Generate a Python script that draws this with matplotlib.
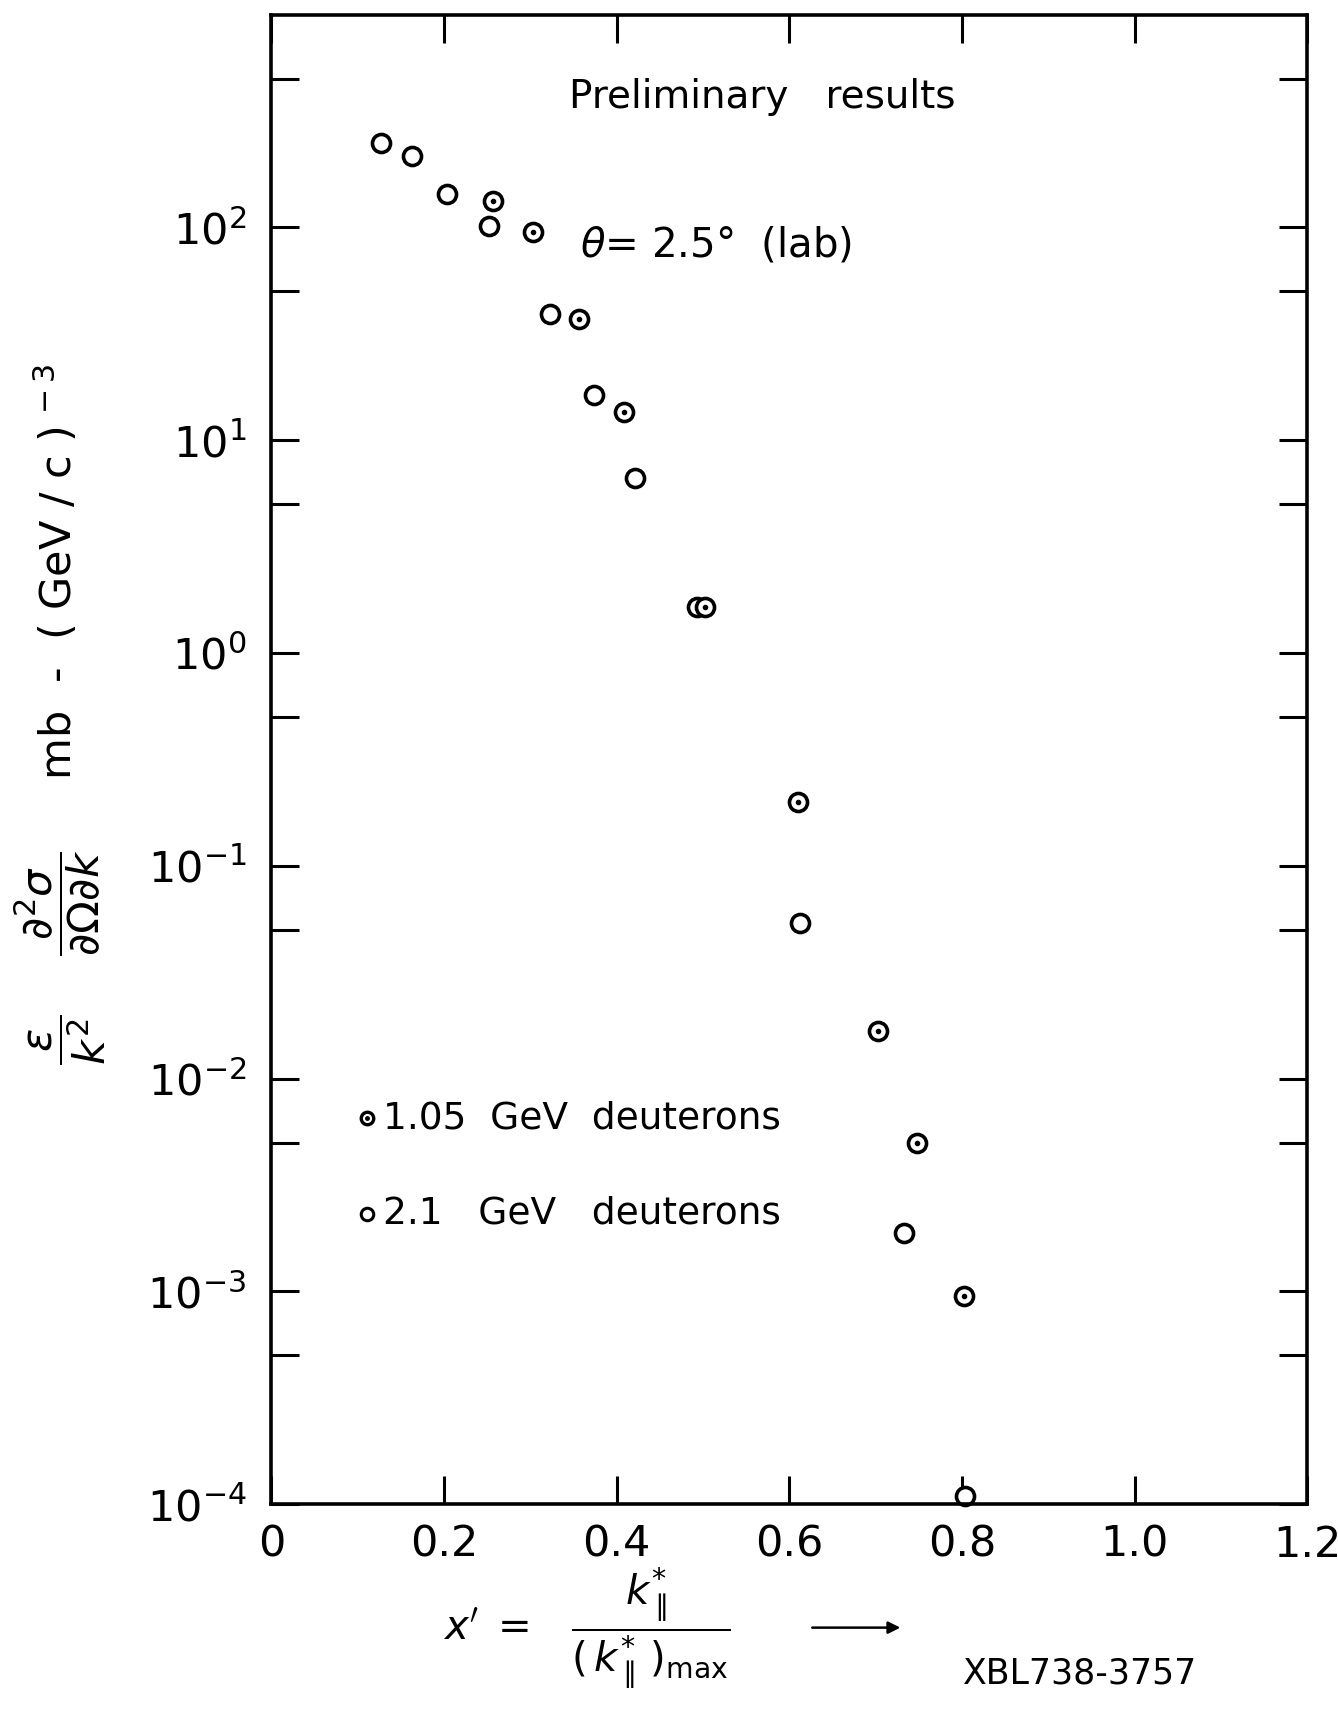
import matplotlib
matplotlib.use("Agg")
import matplotlib.pyplot as plt
from matplotlib.ticker import FixedLocator, NullFormatter

# (theta = 2.5 deg lab)
x_2p1 = [0.127, 0.163, 0.204, 0.252, 0.323, 0.374, 0.421, 0.493, 0.612, 0.733, 0.804]
y_2p1 = [249, 216, 143, 101, 39, 16.3, 6.65, 1.64, 0.054, 0.00188, 1.09e-4]

x_1p05 = [0.257, 0.303, 0.356, 0.408, 0.502, 0.610, 0.703, 0.748, 0.802]
y_1p05 = [133, 95, 37, 13.5, 1.64, 0.20, 0.0168, 0.0050, 0.00095]

x_ticks = [0, 0.2, 0.4, 0.6, 0.8, 1.0, 1.2]
x_ticklabels = ["0", "0.2", "0.4", "0.6", "0.8", "1.0", "1.2"]
y_major = [1e-4, 1e-3, 1e-2, 1e-1, 1e0, 1e1, 1e2]
y_ticklabels = [r"$10^{-4}$", r"$10^{-3}$", r"$10^{-2}$", r"$10^{-1}$",
                r"$10^{0}$", r"$10^{1}$", r"$10^{2}$"]
y_minor = [5e-4, 5e-3, 5e-2, 5e-1, 5e0, 5e1, 5e2]

plt.rcParams["font.family"] = ["DejaVu Sans"]
plt.rcParams["mathtext.fontset"] = "dejavusans"

fig = plt.figure(figsize=(13.38, 17.16), dpi=100)
ax = fig.add_axes([0.2028, 0.1235, 0.7742, 0.868])
ax.set_yscale("log")
ax.set_xlim(0, 1.2)
ax.set_ylim(1e-4, 1e3)

mk = dict(ls="none", marker="o", mfc="white", mec="black", ms=13, mew=2.6, clip_on=False)
ax.plot(x_2p1, y_2p1, **mk)
ax.plot(x_1p05, y_1p05, **mk)
ax.plot(x_1p05, y_1p05, ls="none", marker="o", color="black", ms=3, clip_on=False)

# ticks
ax.xaxis.set_major_locator(FixedLocator(x_ticks))
ax.set_xticklabels(x_ticklabels)
ax.yaxis.set_major_locator(FixedLocator(y_major))
ax.set_yticklabels(y_ticklabels)
ax.yaxis.set_minor_locator(FixedLocator(y_minor))
ax.yaxis.set_minor_formatter(NullFormatter())
ax.xaxis.set_minor_locator(FixedLocator([]))
ax.tick_params(which="both", direction="in", top=True, right=True,
               length=20, width=2.2, labelsize=31, color="black")
ax.tick_params(axis="x", pad=14)
ax.tick_params(axis="y", pad=18)
for s in ax.spines.values():
    s.set_linewidth(2.6)

# annotations
ax.text(0.287, 0.945, "Preliminary   results", transform=ax.transAxes,
        fontsize=28, va="center", ha="left")
ax.text(0.298, 0.845, r"$\theta$= 2.5$\degree$  (lab)", transform=ax.transAxes,
        fontsize=29, va="center", ha="left")

# legend
ax.plot([0.092], [0.259], transform=ax.transAxes, ls="none", marker="o",
        mfc="white", mec="black", ms=9, mew=2.4, clip_on=False)
ax.plot([0.092], [0.259], transform=ax.transAxes, ls="none", marker="o",
        color="black", ms=2.5, clip_on=False)
ax.plot([0.092], [0.195], transform=ax.transAxes, ls="none", marker="o",
        mfc="white", mec="black", ms=9, mew=2.2, clip_on=False)
ax.text(0.108, 0.259, "1.05  GeV  deuterons", transform=ax.transAxes,
        fontsize=27, va="center", ha="left")
ax.text(0.108, 0.195, "2.1   GeV   deuterons", transform=ax.transAxes,
        fontsize=27, va="center", ha="left")

# axis labels
fig.text(0.045, 0.584,
         r"$\dfrac{\epsilon}{k^{2}}\quad\ \dfrac{\partial^{2}\sigma}{\partial\Omega\partial k}$"
         r"     mb  -  ( GeV / c )$^{\,-3}$",
         rotation=90, fontsize=31, ha="center", va="center")
fig.text(0.331, 0.051,
         r"$x' \;=\;\;\; \dfrac{k^{*}_{\parallel}}{(\,k^{*}_{\parallel}\,)_{\max}}$",
         fontsize=29, ha="left", va="center")
fig.add_artist(matplotlib.patches.FancyArrowPatch(
    (0.605, 0.0515), (0.675, 0.0515), transform=fig.transFigure,
    arrowstyle="-|>", mutation_scale=18, lw=1.8, color="black"))
fig.text(0.72, 0.0245, "XBL738-3757", fontsize=25, ha="left", va="center")

fig.savefig("out.png", dpi=100)
